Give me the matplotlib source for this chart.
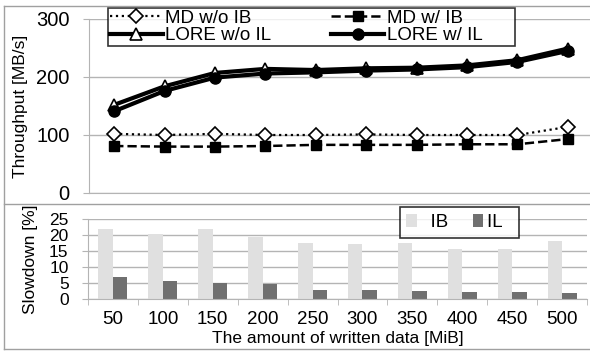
import numpy as np
import matplotlib.pyplot as plt
from matplotlib.lines import Line2D

plt.rcParams['font.family'] = ['Liberation Sans', 'DejaVu Sans']

# data
sizes = ['50', '100', '150', '200', '250', '300', '350', '400', '450', '500']
md_wo_ib = [102, 100, 102, 100, 100, 101, 100, 100, 100, 114]
md_w_ib = [81, 80, 80, 81, 83, 83, 83, 84, 84, 93]
lore_wo_il = [152, 184, 207, 214, 212, 215, 216, 220, 229, 249]
lore_w_il = [141, 176, 199, 206, 208, 211, 213, 217, 226, 245]
slow_ib = [22.0, 20.2, 22.0, 19.3, 17.4, 17.1, 17.4, 15.5, 15.5, 18.1]
slow_il = [6.8, 5.6, 5.1, 4.8, 2.8, 2.8, 2.4, 2.2, 2.2, 1.9]

W, H = 590, 351
fig = plt.figure(figsize=(W / 100, H / 100), dpi=100)
x = np.arange(len(sizes))
grid_c = '#b4b4b4'

def px(l, t, r, b):
    return [l / W, 1 - b / H, (r - l) / W, (b - t) / H]

# throughput panel
ax1 = fig.add_axes(px(89, 19, 593, 193))
ax1.plot(x, md_wo_ib, ':', color='black', lw=1.6, marker='D', ms=7,
         mfc='white', mec='black', mew=1.2, label='MD w/o IB')
ax1.plot(x, lore_wo_il, '-', color='black', lw=3, marker='^', ms=8,
         mfc='white', mec='black', mew=1.2, label='LORE w/o IL')
ax1.plot(x, md_w_ib, '--', color='black', lw=1.8, marker='s', ms=7,
         mfc='black', mec='black', label='MD w/ IB')
ax1.plot(x, lore_w_il, '-', color='black', lw=3, marker='o', ms=8,
         mfc='black', mec='black', label='LORE w/ IL')
ax1.set_xlim(-0.5, 9.5)
ax1.set_ylim(0, 300)
ax1.set_yticks([0, 100, 200, 300])
ax1.set_xticks([])
ax1.yaxis.grid(True, color=grid_c, lw=1)
ax1.set_axisbelow(True)
for s in ['top', 'right']:
    ax1.spines[s].set_visible(False)
for s in ['left', 'bottom']:
    ax1.spines[s].set_color(grid_c)
ax1.tick_params(axis='y', labelsize=14.5, color=grid_c, length=4, pad=10)
ax1.set_ylabel('Throughput [MB/s]', fontsize=12.5, labelpad=6)
leg1 = ax1.legend(ncol=2, loc='upper left', bbox_to_anchor=(0.038, 1.063),
                  fontsize=13.5, frameon=True, fancybox=False, edgecolor='black',
                  handlelength=2.8, handletextpad=0.15, columnspacing=3.2,
                  borderpad=0.1, labelspacing=0.0, borderaxespad=0)
leg1.get_frame().set_linewidth(1.2)
leg1.get_texts()[3].set_text('LORE w/ IL      ')

# slowdown panel
ax2 = fig.add_axes(px(88, 219, 587, 299))
bw = 0.29
ax2.bar(x - bw / 2, slow_ib, bw, color='#e0e0e0', label='IB')
ax2.bar(x + bw / 2, slow_il, bw, color='#707070', label='IL')
ax2.set_xlim(-0.5, 9.5)
ax2.set_ylim(0, 25)
ax2.set_yticks([0, 5, 10, 15, 20, 25])
ax2.set_xticks(x)
ax2.set_xticklabels(sizes)
ax2.set_xticks(np.arange(-0.5, 10, 1), minor=True)
ax2.tick_params(axis='x', which='major', length=0, labelsize=13.5, pad=9)
ax2.tick_params(axis='x', which='minor', length=4, color=grid_c)
ax2.tick_params(axis='y', labelsize=12.5, color=grid_c, length=4, pad=10)
ax2.yaxis.grid(True, color=grid_c, lw=1)
ax2.set_axisbelow(True)
for s in ['top', 'right']:
    ax2.spines[s].set_visible(False)
for s in ['left', 'bottom']:
    ax2.spines[s].set_color(grid_c)
ax2.set_ylabel('Slowdown [%]', fontsize=12.5, labelpad=8)
ax2.set_xlabel('The amount of written data [MiB]', fontsize=12.5)
ax2.xaxis.set_label_coords(0.5, -0.4)
leg2 = ax2.legend(ncol=2, loc='upper left', bbox_to_anchor=(0.625, 1.15),
                  fontsize=13.5, frameon=True, fancybox=False, edgecolor='black',
                  handlelength=0.55, handleheight=0.75, handletextpad=0.2,
                  columnspacing=1.3, borderpad=0.35, borderaxespad=0)
leg2.get_frame().set_linewidth(1.2)
leg2.get_texts()[0].set_text('  IB')
leg2.get_texts()[1].set_text('IL  ')

# outer frame and separator
frame_c = '#a0a0a0'
for xs, ys in [([4, W], [6, 6]), ([4, 4], [6, 349]), ([4, W], [349, 349]),
               ([4, W], [204, 204])]:
    fig.lines.append(Line2D([v / W for v in xs], [1 - v / H for v in ys],
                            transform=fig.transFigure, color=frame_c, lw=1))

fig.savefig('out.png', dpi=100)
